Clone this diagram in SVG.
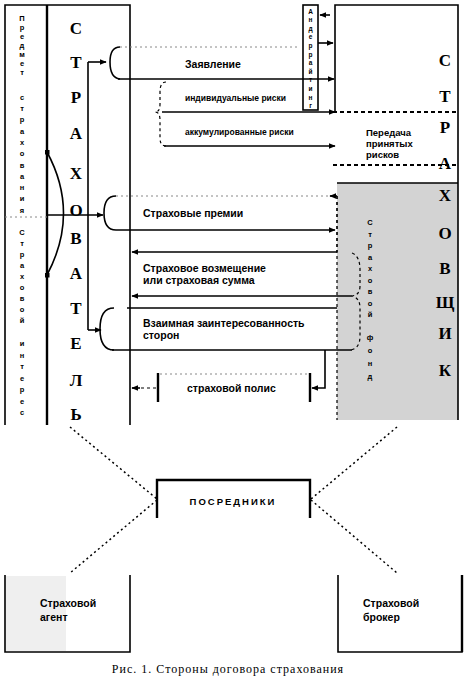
<svg xmlns="http://www.w3.org/2000/svg" width="468" height="690" viewBox="0 0 468 690">
<style>
.ln{stroke:#000;stroke-width:1.6;fill:none}
.thk{stroke:#000;stroke-width:2.4;fill:none}
.thin{stroke:#000;stroke-width:1;fill:none}
.dash{stroke:#000;stroke-width:1.2;stroke-dasharray:3 3;fill:none}
.dot{stroke:#000;stroke-width:1.8;stroke-dasharray:4 3;fill:none}
.faint{stroke:#888;stroke-width:1;stroke-dasharray:2 3;fill:none}
.diag{stroke:#000;stroke-width:1.5;stroke-dasharray:2 3;fill:none}
.big{font-family:"Liberation Serif",serif;font-weight:bold;font-size:17px;text-anchor:middle;fill:#000}
.lbl{font-family:"Liberation Sans",sans-serif;font-size:10.5px;font-weight:bold;fill:#000}
.sml{font-family:"Liberation Sans",sans-serif;font-size:8.5px;font-weight:bold;fill:#000}
.stk{font-family:"Liberation Sans",sans-serif;font-size:7.5px;font-weight:bold;text-anchor:middle;fill:#000}
.cap{font-family:"Liberation Serif",serif;font-size:12px;letter-spacing:1px;text-anchor:middle;fill:#000}
</style>
<defs>
<marker id="ah" viewBox="0 0 10 10" refX="9" refY="5" markerWidth="7" markerHeight="7" markerUnits="userSpaceOnUse" orient="auto"><path d="M0,1 L10,5 L0,9 z" fill="#000"/></marker>
<marker id="sq" viewBox="0 0 10 10" refX="5" refY="5" markerWidth="5" markerHeight="5" markerUnits="userSpaceOnUse"><rect x="0" y="0" width="10" height="10" fill="#000"/></marker>
</defs>
<rect width="468" height="690" fill="#fff"/>

<g id="strahovatel">
<path class="ln" d="M5,425 V5 H130 V425"/>
<path class="thk" d="M47,5 V425"/>
<path class="faint" d="M5,217 H47"/>
<text class="stk" x="22 22 22 22 22 22 22" y="21 30 39 48 57 66 75">Предмет</text>
<text class="stk" x="22 22 22 22 22 22 22 22 22 22 22" y="100 111 122 134 145 156 168 179 190 201 213">страхования</text>
<text class="stk" x="22 22 22 22 22 22 22 22 22" y="235 246 257 268 279 290 301 312 323">Страховой</text>
<text class="stk" x="22 22 22 22 22 22 22" y="346 357.5 369 380.5 392 403.5 415">интерес</text>
<text class="big" x="76 76 76 76 76 76 76 76 76 76 76 76" y="34 68 103 139 179 216 244 279 314 349 386 420">СТРАХОВАТЕЛЬ</text>
</g>

<g id="strahovshik">
<rect x="337" y="183" width="121" height="237" fill="#d3d3d3"/>
<path class="ln" d="M335,112 V5 H458 V420"/>
<path class="dot" d="M333,112 H458 M333,165 H458"/>
<path class="ln" d="M337,183 H458"/>
<path class="dash" d="M337,196 V420"/>
<text class="big" x="445 445 445 445 445 445 445 445 445 445" y="66 102 133 169 201 239 274 308 339 376">СТРАХОВЩИК</text>
<text class="stk" x="370 370 370 370 370 370 370 370 370" y="225 236.5 248 259.5 271 282.5 294 305.5 317">Страховой</text>
<text class="stk" x="370 370 370 370" y="340 353 366 379">фонд</text>
</g>

<g id="strip">
<rect x="303" y="5" width="15" height="105" class="ln" fill="#fff"/>
<text class="stk" style="font-size:6.5px" x="310.5 310.5 310.5 310.5 310.5 310.5 310.5 310.5 310.5 310.5 310.5 310.5" y="13.5 22.1 30.7 39.3 47.9 56.5 65.1 73.7 82.3 90.9 99.5 108.1">Андеррайтинг</text>
</g>

<g id="peredacha">
<text class="sml" style="font-size:9.5px" x="366" y="136">Передача</text>
<text class="sml" style="font-size:9.5px" x="366" y="147">принятых</text>
<text class="sml" style="font-size:9.5px" x="366" y="158">рисков</text>
</g>

<g id="zayavlenie">
<text class="lbl" x="185" y="68">Заявление</text>
</g>
<g id="risk1"><text class="sml" x="185" y="101">индивидуальные риски</text></g>
<g id="risk2"><text class="sml" x="185" y="135">аккумулированные риски</text></g>
<g id="premii"><text class="lbl" x="143" y="217">Страховые премии</text></g>
<g id="vozmeshenie">
<text class="lbl" x="143" y="272">Страховое возмещение</text>
<text class="lbl" x="143" y="284">или страховая сумма</text>
</g>
<g id="zainteresovannost">
<text class="lbl" x="143" y="327">Взаимная заинтересованность</text>
<text class="lbl" x="143" y="339">сторон</text>
</g>
<g id="polis">
<path class="thk" d="M158,373 V402 M310,373 V402"/>
<path class="faint" d="M160,374 H308"/>
<text class="lbl" x="187" y="392">страховой полис</text>
</g>

<g id="posredniki">
<path class="thk" d="M157,518 V480 H310 V518"/>
<text class="lbl" style="font-size:9.5px;letter-spacing:2px" x="233" y="505" text-anchor="middle">ПОСРЕДНИКИ</text>
</g>
<g id="agent">
<rect x="6" y="576" width="60" height="75" fill="#efefef"/>
<path class="ln" d="M5,575 V652 H130 V575"/>
<text class="lbl" x="40" y="607">Страховой</text>
<text class="lbl" x="40" y="621">агент</text>
</g>
<g id="broker">
<path class="ln" d="M338,575 V652 H462 V575"/>
<path class="thk" d="M462,575 V652"/>
<text class="lbl" x="363" y="607">Страховой</text>
<text class="lbl" x="363" y="621">брокер</text>
</g>

<g id="connectors">
<path class="ln" d="M88,62 V330"/>
<path class="ln" d="M88,62 H106" marker-end="url(#ah)"/>
<path class="ln" d="M88,330 H101" marker-end="url(#ah)"/>
<path class="ln" d="M120,47 Q110,47 110,62 Q110,78 120,79"/>
<path class="faint" d="M120,47 H300"/>
<path class="ln" d="M118,79 H334" marker-end="url(#ah)"/>
<path class="ln" d="M330,15 H320" marker-end="url(#ah)"/>
<path class="ln" d="M318,43 H333" marker-end="url(#ah)"/>
<path class="dash" d="M166,82 Q160,82 160,92 V104 Q160,112 155,112 Q160,112 160,120 V138 Q160,146 166,146"/>
<path class="ln" d="M162,112 H335" marker-end="url(#ah)"/>
<path class="ln" d="M164,146 H335" marker-end="url(#ah)"/>
<path class="ln" d="M116,196 Q104,196 104,213 Q104,230 116,230"/>
<path class="faint" d="M116,196 H330"/>
<path class="ln" d="M337,196 H330" marker-end="url(#ah)"/>
<path class="dash" d="M337,196 V252"/>
<path class="ln" d="M116,230 H335" marker-end="url(#ah)"/>
<path class="ln" d="M47,215 H103" marker-end="url(#ah)"/>
<path class="ln" d="M47,152 Q80,213 47,275" marker-start="url(#sq)" marker-end="url(#sq)"/>
<path class="ln" d="M337,252 H132" marker-end="url(#ah)"/>
<path class="ln" d="M352,296 H132" marker-end="url(#ah)"/>
<path class="ln" d="M127,308 H337"/>
<path class="ln" d="M114,308 Q100,308 100,329 Q100,350 114,350"/>
<path class="ln" d="M112,350 H352"/>
<path class="dash" d="M352,253 Q360,256 360,270 V286 Q360,295 352,296 Q360,298 360,308 V336 Q360,349 350,350"/>
<path class="ln" d="M325,350 V388 H312" marker-end="url(#ah)"/>
<path class="dash" d="M156,388 H140"/>
<path class="ln" d="M140,388 H132" marker-end="url(#ah)"/>
<path class="diag" d="M70,427 L157,499 M397,427 L311,499 M157,500 L70,573 M311,500 L397,573"/>
</g>

<text class="cap" x="228" y="673">Рис. 1. Стороны договора страхования</text>
</svg>
